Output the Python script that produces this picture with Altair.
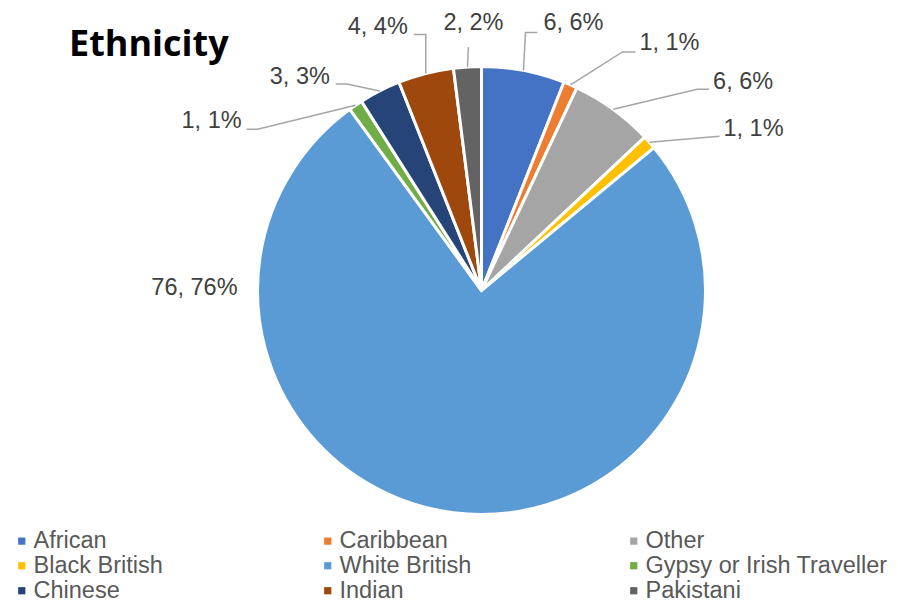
import math
import altair as alt
import pandas as pd

# ---- data ----
categories = ["African", "Caribbean", "Other", "Black British", "White British",
              "Gypsy or Irish Traveller", "Chinese", "Indian", "Pakistani"]
counts = [6, 1, 6, 1, 76, 1, 3, 4, 2]
percents = [6, 1, 6, 1, 76, 1, 3, 4, 2]
title_text = "Ethnicity"

# ---- style ----
colors = ["#4472C4", "#ED7D31", "#A5A5A5", "#FFC000", "#5B9BD5",
          "#70AD47", "#264478", "#9E480E", "#636363"]
OFF = 8                      # page margin
CX, CY, R = 481.5 - OFF, 290.5 - OFF, 224
# offsets relative to each slice's outer mid-point (text centre, leader elbow, leader end)
text_off = [(50, -47), (99, -42), (130, -27), (104, -13), (-259, -225),
            (-144, 16), (-80, -14), (-48, -47), (6, -44)]
elbow_off = [(2, -38), (52, -33), (84, -20), (58, -5), None,
             (-98, 24), (-33, -7), (0, -39), (1, -20)]
end_off = [(14, -38), (65, -33), (96, -20), (70, -6), None,
           (-109, 24), (-44, -7), (-12, -39), (1, -20)]

W, H = 898 - 2 * OFF, 600 - OFF

total = sum(counts)
rows, label_rows, line_rows = [], [], []
cum = 0
for i, (c, n, p) in enumerate(zip(categories, counts, percents)):
    mid = (cum + n / 2) / total * 2 * math.pi
    cum += n
    ex = CX + R * math.sin(mid)
    ey = CY - R * math.cos(mid)
    rows.append({"cat": c, "n": n, "idx": i})
    label_rows.append({"cat": c, "lab": f"{n}, {p}%",
                       "x": ex + text_off[i][0], "y": ey + text_off[i][1]})
    if elbow_off[i] is not None:
        pts = [(ex, ey), (ex + elbow_off[i][0], ey + elbow_off[i][1]),
               (ex + end_off[i][0], ey + end_off[i][1])]
        for k, (px, py) in enumerate(pts):
            line_rows.append({"cat": c, "k": k, "x": px, "y": py})

df = pd.DataFrame(rows)
df_lab = pd.DataFrame(label_rows)
df_line = pd.DataFrame(line_rows)

color_scale = alt.Scale(domain=categories, range=colors)

pie = alt.Chart(df).mark_arc(outerRadius=R, stroke="white", strokeWidth=3).encode(
    theta=alt.Theta("n:Q", stack=True),
    order=alt.Order("idx:Q"),
    color=alt.Color("cat:N", scale=color_scale, sort=categories,
                    legend=alt.Legend(title=None, orient="none", legendX=2, legendY=521,
                                      direction="horizontal",
                                      columns=3, gridAlign="all", columnPadding=40,
                                      rowPadding=0, symbolType="square", symbolSize=52,
                                      symbolStrokeWidth=0, labelOffset=0,
                                      labelFont="Liberation Sans", labelFontSize=23.5,
                                      labelColor="#595959", padding=0, labelLimit=400)),
    x=alt.value(CX), y=alt.value(CY),
)

leaders = alt.Chart(df_line).mark_line(color="#A6A6A6", strokeWidth=1.5).encode(
    x=alt.X("x:Q", scale=None, axis=None),
    y=alt.Y("y:Q", scale=None, axis=None),
    detail="cat:N",
    order="k:Q",
)

labels = alt.Chart(df_lab).mark_text(font="Liberation Sans", fontSize=23.5, color="#404040",
                                     align="center", baseline="middle").encode(
    x=alt.X("x:Q", scale=None, axis=None),
    y=alt.Y("y:Q", scale=None, axis=None),
    text="lab:N",
)

title = alt.Chart(pd.DataFrame({"t": [title_text]})).mark_text(
    font="Open Sans", fontWeight="bold", fontSize=36, color="#000000",
    align="left", baseline="alphabetic").encode(
    x=alt.value(69 - OFF), y=alt.value(56 - OFF), text="t:N")

chart = alt.layer(pie, leaders, labels, title).properties(
    width=W, height=H, padding=0, autosize=alt.AutoSizeParams(type="none")
).configure_view(stroke=None)

chart.save("out.html", embed_options={"renderer": "svg", "actions": False})
